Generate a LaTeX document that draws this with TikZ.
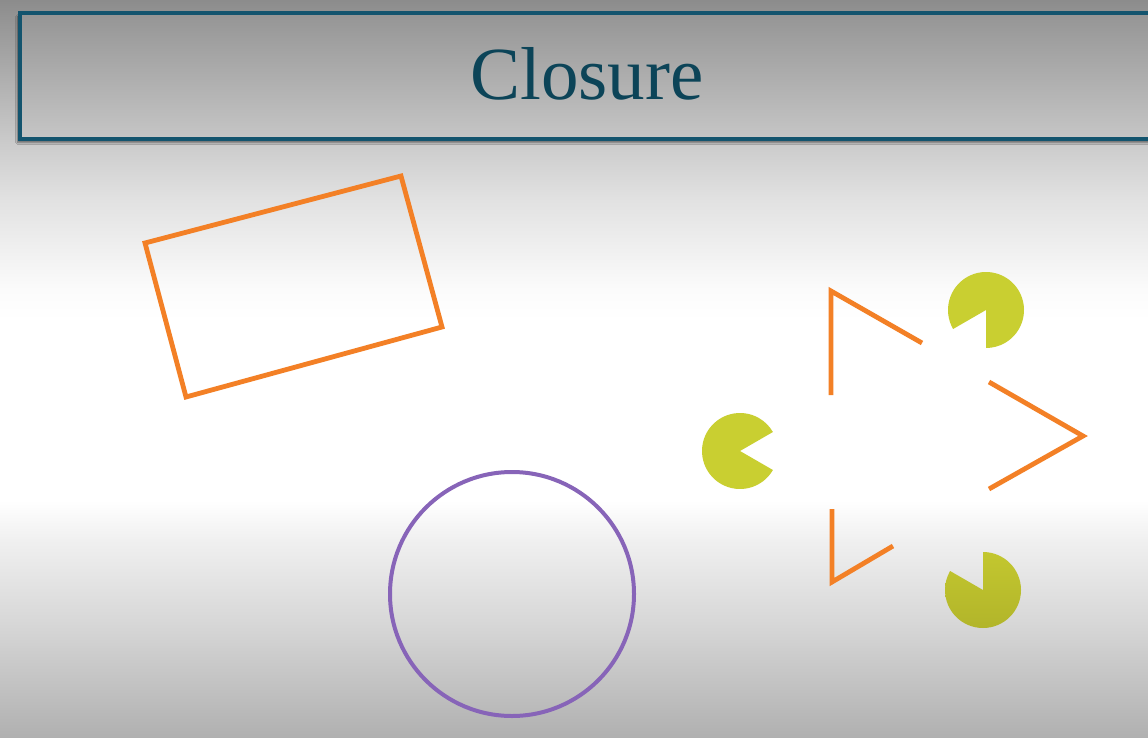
\documentclass[tikz,border=0pt]{standalone}
\usepackage{fontspec}
\setmainfont{Liberation Serif}
\usetikzlibrary{shadows.blur}
\definecolor{bgA}{HTML}{B0B0B0}
\definecolor{bgB}{HTML}{D8D8D8}
\definecolor{bgC}{HTML}{F0F0F0}
\definecolor{bgD}{HTML}{FBFBFB}
\definecolor{bgE}{HTML}{E2E2E2}
\definecolor{bgF}{HTML}{CACACA}
\definecolor{bgG}{HTML}{8C8C8C}
\definecolor{titleborder}{HTML}{13546E}
\definecolor{titletext}{HTML}{0C4458}
\definecolor{titletop}{HTML}{959595}
\definecolor{titlebot}{HTML}{C6C6C6}
\definecolor{shapeorange}{HTML}{F38026}
\definecolor{circpurple}{HTML}{8764B8}
\definecolor{pacgreen}{HTML}{C9CF31}
\definecolor{pacgreenB}{HTML}{C3C72F}
\definecolor{pacgreenC}{HTML}{B2B52A}
\pgfdeclareverticalshading{bgshade}{100bp}{%
  color(0bp)=(bgA); color(25bp)=(bgA); color(33bp)=(bgB); color(38.4bp)=(bgC);
  color(41.1bp)=(white); color(53.3bp)=(white); color(55.4bp)=(bgD);
  color(61.4bp)=(bgE); color(65.5bp)=(bgF); color(75bp)=(bgG); color(100bp)=(bgG)}
\tikzset{
  titlebox/.style={draw=titleborder, line width=4pt, top color=titletop, bottom color=titlebot,
    blur shadow={shadow xshift=-2pt, shadow yshift=-3pt, shadow opacity=50, shadow blur steps=6}},
  titlelabel/.style={text=titletext, font=\fontsize{75}{80}\selectfont, inner sep=0pt},
  rectline/.style={draw=shapeorange, line width=4.8pt, line join=miter},
  circline/.style={draw=circpurple, line width=4pt},
  triline/.style={draw=shapeorange, line width=4.8pt, line join=miter},
  pacman/.style={fill=pacgreen, draw=none}
}
\begin{document}
\begin{tikzpicture}[x=1pt,y=-1pt]
\useasboundingbox (0,0) rectangle (1148,738);
\clip (0,0) rectangle (1148,738);
\shade[shading=bgshade] (0,0) rectangle (1148,738);
% title bar
\path[titlebox] (19.5,13.5) rectangle (1160,139.5);
\node[titlelabel, anchor=base] (title) at (587,100) {Closure};
% rotated rectangle
\draw[rectline] (145,243) -- (401,176) -- (442,327) -- (186,397) -- cycle;
% circle
\draw[circline] (512,594) circle[radius=122];
% Kanizsa triangle fragments
\coordinate (tA) at (831,291);
\coordinate (tB) at (1083,436);
\coordinate (tC) at (832,582);
\draw[triline] (831,395) -- (tA) -- (922,343);
\draw[triline] (989,382) -- (tB) -- (989,489);
\draw[triline] (832,509) -- (tC) -- (893,546);
% pacmen
\fill[pacman] (740,451) -- ++(30:38) arc[start angle=30, end angle=330, radius=38] -- cycle;
\fill[pacman] (986,310) -- ++(150:38) arc[start angle=150, end angle=450, radius=38] -- cycle;
\shade[top color=pacgreenB, bottom color=pacgreenC] (983,590) -- ++(270:38) arc[start angle=270, end angle=570, radius=38] -- cycle;
\end{tikzpicture}
\end{document}
